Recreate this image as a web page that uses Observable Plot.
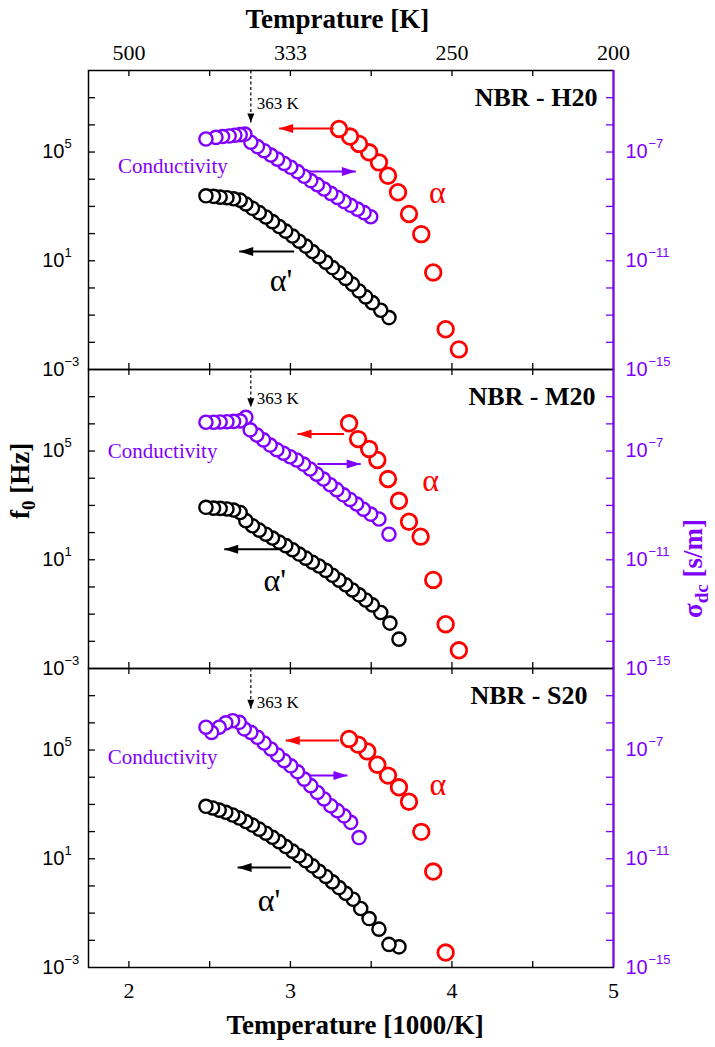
<!DOCTYPE html>
<html><head><meta charset="utf-8">
<script src="https://cdn.jsdelivr.net/npm/d3@7"></script>
<script src="https://cdn.jsdelivr.net/npm/@observablehq/plot@0.6"></script>
<style>body{margin:0;background:#fff}#chart{width:715px;height:1047px}</style>
</head><body><div id="chart"></div>
<script>
// ---- data: [1000/T, log10 value] ----
const panels = ["NBR - H20", "NBR - M20", "NBR - S20"];
const xTickLabels = [2, 3, 4, 5];
const topTickLabels = ["500", "333", "250", "200"];
const fExps = [-3, 1, 5];
const sigmaExps = [-15, -11, -7];

// α' relaxation, log10 f0 [Hz]
const h20AlphaPrime = [[2.477,3.39],[2.524,3.37],[2.565,3.34],[2.607,3.32],[2.648,3.28],[2.689,3.23],[2.724,3.09],[2.765,2.93],[2.807,2.77],[2.848,2.61],[2.889,2.44],[2.930,2.26],[2.971,2.09],[3.013,1.91],[3.054,1.72],[3.095,1.54],[3.136,1.34],[3.177,1.15],[3.219,0.95],[3.260,0.75],[3.301,0.56],[3.342,0.35],[3.384,0.14],[3.425,-0.11],[3.466,-0.33],[3.507,-0.54],[3.559,-0.82],[3.610,-1.09]];
const m20AlphaPrime = [[2.477,2.93],[2.524,2.90],[2.565,2.89],[2.607,2.87],[2.648,2.83],[2.689,2.74],[2.724,2.44],[2.765,2.25],[2.807,2.09],[2.848,1.94],[2.889,1.80],[2.930,1.65],[2.971,1.52],[3.013,1.37],[3.054,1.21],[3.095,1.06],[3.136,0.91],[3.177,0.77],[3.219,0.61],[3.260,0.43],[3.301,0.25],[3.342,0.08],[3.384,-0.11],[3.425,-0.29],[3.466,-0.48],[3.507,-0.66],[3.559,-0.94],[3.616,-1.33],[3.672,-1.92]];
const s20AlphaPrime = [[2.477,2.93],[2.518,2.87],[2.559,2.79],[2.600,2.71],[2.642,2.61],[2.683,2.50],[2.724,2.37],[2.765,2.24],[2.807,2.09],[2.848,1.94],[2.889,1.79],[2.930,1.63],[2.971,1.45],[3.013,1.28],[3.054,1.11],[3.095,0.93],[3.136,0.74],[3.177,0.54],[3.219,0.35],[3.260,0.15],[3.301,-0.06],[3.342,-0.27],[3.388,-0.49],[3.435,-0.83],[3.487,-1.20],[3.548,-1.59],[3.610,-2.15],[3.672,-2.24]];

// α relaxation, log10 f0 [Hz]
const h20Alpha = [[3.301,5.85],[3.369,5.57],[3.425,5.30],[3.487,4.99],[3.548,4.62],[3.604,4.13],[3.666,3.52],[3.734,2.72],[3.810,1.98],[3.884,0.57],[3.961,-1.52],[4.043,-2.26]];
const m20Alpha = [[3.363,6.02],[3.419,5.44],[3.487,5.08],[3.538,4.67],[3.604,3.97],[3.672,3.17],[3.734,2.40],[3.806,1.85],[3.884,0.26],[3.961,-1.37],[4.043,-2.33]];
const s20Alpha = [[3.363,5.41],[3.419,5.20],[3.476,4.95],[3.538,4.46],[3.604,4.06],[3.672,3.63],[3.734,3.10],[3.810,1.99],[3.884,0.53],[3.961,-2.45]];

// dc conductivity, log10 σdc [s/m]
const h20Sigma = [[2.477,-6.52],[2.539,-6.46],[2.580,-6.43],[2.621,-6.41],[2.656,-6.38],[2.689,-6.36],[2.718,-6.34],[2.755,-6.64],[2.796,-6.80],[2.837,-6.95],[2.879,-7.11],[2.920,-7.26],[2.961,-7.42],[3.002,-7.56],[3.044,-7.72],[3.085,-7.89],[3.126,-8.05],[3.167,-8.20],[3.208,-8.36],[3.250,-8.52],[3.291,-8.67],[3.332,-8.82],[3.373,-8.96],[3.415,-9.10],[3.456,-9.23],[3.497,-9.38]];
const m20Sigma = [[2.477,-5.94],[2.524,-5.94],[2.565,-5.93],[2.607,-5.92],[2.648,-5.91],[2.689,-5.89],[2.724,-5.76],[2.751,-6.22],[2.792,-6.41],[2.833,-6.59],[2.875,-6.78],[2.916,-6.95],[2.957,-7.08],[2.998,-7.21],[3.039,-7.33],[3.081,-7.48],[3.122,-7.66],[3.163,-7.85],[3.204,-8.03],[3.246,-8.24],[3.287,-8.42],[3.328,-8.61],[3.369,-8.78],[3.410,-8.95],[3.452,-9.14],[3.497,-9.32],[3.548,-9.50],[3.610,-10.06]];
const s20Sigma = [[2.477,-6.16],[2.512,-6.35],[2.559,-6.16],[2.600,-6.00],[2.642,-5.92],[2.683,-5.98],[2.714,-6.22],[2.755,-6.35],[2.796,-6.53],[2.837,-6.74],[2.879,-6.96],[2.920,-7.18],[2.961,-7.39],[3.002,-7.58],[3.044,-7.80],[3.085,-8.07],[3.126,-8.31],[3.167,-8.56],[3.208,-8.80],[3.250,-9.05],[3.291,-9.23],[3.332,-9.42],[3.373,-9.66],[3.425,-10.22]];

// ---- styling / layout ----
const VIOLET = "#8000ff", RED = "#ff0000", BLACK = "#000";
const SERIF = "Liberation Serif, Times New Roman, serif";
const SANS = "Liberation Sans, Arial, sans-serif";
const W = 715, H = 1047, mL = 88, mR = 102, mT = 70, mB = 80;
const plotW = W - mL - mR;
const panelH = (H - mT - mB) / 3;
const SIGMA_SHIFT = 12; // right axis: σdc = f0 × 1e-12

const rowsOf = (panel, pts, shift) => pts.map(([x, v]) => ({panel, x, f: 10 ** (v + shift)})).reverse();
const alphaPrimeRows = [...rowsOf(panels[0], h20AlphaPrime, 0), ...rowsOf(panels[1], m20AlphaPrime, 0), ...rowsOf(panels[2], s20AlphaPrime, 0)];
const alphaRows = [...rowsOf(panels[0], h20Alpha, 0), ...rowsOf(panels[1], m20Alpha, 0), ...rowsOf(panels[2], s20Alpha, 0)];
const sigmaRows = [...rowsOf(panels[0], h20Sigma, SIGMA_SHIFT), ...rowsOf(panels[1], m20Sigma, SIGMA_SHIFT), ...rowsOf(panels[2], s20Sigma, SIGMA_SHIFT)];

// annotations (positions in data units)
const refMarks = [
  {panel: panels[0], x: 1000 / 363, tip: 10 ** 6.09, ty: 10 ** 6.78},
  {panel: panels[1], x: 1000 / 363, tip: 10 ** 6.61, ty: 10 ** 6.93},
  {panel: panels[2], x: 1000 / 363, tip: 10 ** 6.52, ty: 10 ** 6.75}
];
const arrows = [
  {panel: panels[0], c: RED, x1: 3.268, x2: 2.930, y: 10 ** 5.87, dir: "left"},
  {panel: panels[0], c: VIOLET, x1: 3.106, x2: 3.405, y: 10 ** 4.28, dir: "right"},
  {panel: panels[0], c: BLACK, x1: 3.023, x2: 2.683, y: 10 ** 1.34, dir: "left"},
  {panel: panels[1], c: RED, x1: 3.332, x2: 3.044, y: 10 ** 5.63, dir: "left"},
  {panel: panels[1], c: VIOLET, x1: 3.167, x2: 3.435, y: 10 ** 4.52, dir: "right"},
  {panel: panels[1], c: BLACK, x1: 2.940, x2: 2.590, y: 10 ** 1.39, dir: "left"},
  {panel: panels[2], c: RED, x1: 3.301, x2: 2.971, y: 10 ** 5.35, dir: "left"},
  {panel: panels[2], c: VIOLET, x1: 3.116, x2: 3.353, y: 10 ** 4.06, dir: "right"},
  {panel: panels[2], c: BLACK, x1: 3.002, x2: 2.673, y: 10 ** 0.68, dir: "left"}
];
const condLabels = [
  {panel: panels[0], x: 1.933, y: 10 ** 4.46},
  {panel: panels[1], x: 1.869, y: 10 ** 4.99},
  {panel: panels[2], x: 1.869, y: 10 ** 4.73}
];
const alphaLabels = [
  {panel: panels[0], x: 3.909, y: 10 ** 3.52},
  {panel: panels[1], x: 3.868, y: 10 ** 3.91},
  {panel: panels[2], x: 3.913, y: 10 ** 3.72}
];
const alphaPrimeLabels = [
  {panel: panels[0], x: 2.941, y: 10 ** 0.26},
  {panel: panels[1], x: 2.903, y: 10 ** 0.22},
  {panel: panels[2], x: 2.868, y: 10 ** -0.55}
];
const panelTitles = [
  {panel: panels[0], x: 4.901},
  {panel: panels[1], x: 4.889},
  {panel: panels[2], x: 4.839}
];

const triLeft = {draw(ctx) { ctx.moveTo(0, 0); ctx.lineTo(14, -4.5); ctx.lineTo(14, 4.5); ctx.closePath(); }};
const triRight = {draw(ctx) { ctx.moveTo(0, 0); ctx.lineTo(-14, -4.5); ctx.lineTo(-14, 4.5); ctx.closePath(); }};
const triDown = {draw(ctx) { ctx.moveTo(0, 0); ctx.lineTo(-3.5, -9); ctx.lineTo(3.5, -9); ctx.closePath(); }};

const minorX = [2, 2.5, 3, 3.5, 4, 4.5];
const decadeTicks = d3.range(-2, 8).map(e => 10 ** e);
const supText = e => (e < 0 ? "\u2212" + (-e) : String(e));
const LA = "middle";

const chart = Plot.plot({
  width: W, height: H,
  marginLeft: mL, marginRight: mR, marginTop: mT, marginBottom: mB,
  style: {background: "white", fontFamily: SERIF, overflow: "visible"},
  x: {domain: [1.75, 5], axis: null},
  y: {type: "log", domain: [1e-3, 1e8], axis: null},
  fy: {domain: panels, padding: 0, axis: null},
  marks: [
    // inward ticks
    Plot.tickY(decadeTicks, {y: d => d, insetRight: plotW - 7, stroke: BLACK, strokeWidth: 1.3}),
    Plot.tickY(decadeTicks, {y: d => d, insetLeft: plotW - 7, stroke: VIOLET, strokeWidth: 1.3}),
    Plot.tickX(minorX, {x: d => d, insetBottom: panelH - 6, stroke: BLACK, strokeWidth: 1.3}),
    Plot.tickX(minorX, {x: d => d, insetTop: panelH - 6, stroke: BLACK, strokeWidth: 1.3}),
    // frame
    Plot.frame({stroke: BLACK, strokeWidth: 1.5}),
    Plot.ruleX([5], {stroke: VIOLET, strokeWidth: 2}),
    // left tick labels (10^n)
    Plot.text(fExps, {y: e => 10 ** e, text: () => "10", frameAnchor: "left", textAnchor: "end", lineAnchor: LA, dx: -24, fontFamily: SANS, fontSize: 20, fill: BLACK}),
    Plot.text(fExps, {y: e => 10 ** e, text: e => supText(e), frameAnchor: "left", textAnchor: "start", lineAnchor: LA, dx: -24, dy: -8, fontFamily: SANS, fontSize: 13, fill: BLACK}),
    // right tick labels (σ)
    Plot.text(sigmaExps, {y: e => 10 ** (e + SIGMA_SHIFT), text: () => "10", frameAnchor: "right", textAnchor: "start", lineAnchor: LA, dx: 12, fontFamily: SANS, fontSize: 20, fill: VIOLET}),
    Plot.text(sigmaExps, {y: e => 10 ** (e + SIGMA_SHIFT), text: e => supText(e), frameAnchor: "right", textAnchor: "start", lineAnchor: LA, dx: 35, dy: -8, fontFamily: SANS, fontSize: 13, fill: VIOLET}),
    // bottom axis
    Plot.text(xTickLabels, {x: d => d, fy: () => panels[2], text: d => String(d), frameAnchor: "bottom", lineAnchor: LA, dy: 23, fontSize: 22}),
    Plot.text(["Temperature [1000/K]"], {x: () => 3.40, fy: () => panels[2], frameAnchor: "bottom", lineAnchor: LA, dy: 58, fontSize: 27, fontWeight: "bold"}),
    // top axis
    Plot.text(xTickLabels, {x: d => d, fy: () => panels[0], text: (d, i) => topTickLabels[i], frameAnchor: "top", lineAnchor: LA, dy: -18, fontSize: 22}),
    Plot.text(["Temprature [K]"], {x: () => 3.29, fy: () => panels[0], frameAnchor: "top", lineAnchor: LA, dy: -51, fontSize: 27, fontWeight: "bold"}),
    // side titles
    Plot.text(["f0 [Hz]"], {fy: () => panels[1], frameAnchor: "left", lineAnchor: LA, dx: -68, rotate: -90, fontSize: 27, fontWeight: "bold"}),
    Plot.text(["σdc [s/m]"], {fy: () => panels[1], frameAnchor: "right", lineAnchor: LA, dx: 80, rotate: -90, fontSize: 27, fontWeight: "bold", fill: VIOLET}),
    // panel titles
    Plot.text(panelTitles, {fy: "panel", x: "x", text: "panel", frameAnchor: "top", textAnchor: "end", lineAnchor: LA, dy: 27, fontSize: 26, fontWeight: "bold"}),
    // 363 K marker
    Plot.link(refMarks, {fy: "panel", x1: "x", x2: "x", y1: () => 1e8, y2: "tip", stroke: BLACK, strokeWidth: 1.2, strokeDasharray: "3,2.5"}),
    Plot.dot(refMarks, {fy: "panel", x: "x", y: "tip", symbol: triDown, fill: BLACK, stroke: "none", r: 4}),
    Plot.text(refMarks, {fy: "panel", x: "x", y: "ty", text: () => "363 K", textAnchor: "start", lineAnchor: LA, dx: 6, fontSize: 17}),
    // data
    Plot.dot(sigmaRows, {fy: "panel", x: "x", y: "f", r: 6.6, fill: "white", stroke: VIOLET, strokeWidth: 2.4}),
    Plot.dot(alphaPrimeRows, {fy: "panel", x: "x", y: "f", r: 6.6, fill: "white", stroke: BLACK, strokeWidth: 2.4}),
    Plot.dot(alphaRows, {fy: "panel", x: "x", y: "f", r: 7.8, fill: "white", stroke: RED, strokeWidth: 2.8}),
    // arrows
    Plot.link(arrows, {fy: "panel", x1: "x1", x2: "x2", y1: "y", y2: "y", stroke: "c", strokeWidth: 2}),
    Plot.dot(arrows.filter(d => d.dir === "left"), {fy: "panel", x: "x2", y: "y", symbol: triLeft, fill: "c", stroke: "none", r: 5}),
    Plot.dot(arrows.filter(d => d.dir === "right"), {fy: "panel", x: "x2", y: "y", symbol: triRight, fill: "c", stroke: "none", r: 5}),
    // series labels
    Plot.text(condLabels, {fy: "panel", x: "x", y: "y", text: () => "Conductivity", textAnchor: "start", lineAnchor: LA, fontSize: 21, fill: VIOLET}),
    Plot.text(alphaLabels, {fy: "panel", x: "x", y: "y", text: () => "α", lineAnchor: LA, fontSize: 32, fill: RED}),
    Plot.text(alphaPrimeLabels, {fy: "panel", x: "x", y: "y", text: () => "α'", lineAnchor: LA, fontSize: 32, fill: BLACK})
  ]
});
document.getElementById("chart").appendChild(chart);

// subscripts in the side titles
const svg = d3.select(chart);
svg.selectAll("text").each(function () {
  const t = this.textContent;
  const el = d3.select(this);
  if (t === "f0 [Hz]") {
    el.text(null);
    el.append("tspan").text("f");
    el.append("tspan").attr("dy", 6).attr("font-size", 19).text("0");
    el.append("tspan").attr("dy", -6).text(" [Hz]");
  } else if (t === "σdc [s/m]") {
    el.text(null);
    el.append("tspan").text("σ");
    el.append("tspan").attr("dy", 6).attr("font-size", 19).text("dc");
    el.append("tspan").attr("dy", -6).text(" [s/m]");
  }
});
</script>
</body></html>
